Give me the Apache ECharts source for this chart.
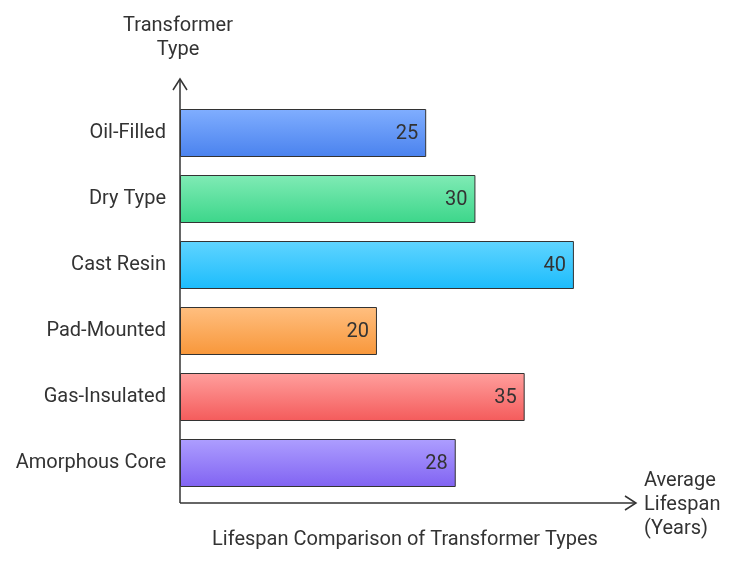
<!DOCTYPE html>
<html><head><meta charset="utf-8">
<script src="https://cdn.jsdelivr.net/npm/echarts@6/dist/echarts.min.js"></script>
<style>html,body{margin:0;padding:0;background:#fff}#c{width:750px;height:564px}</style>
</head><body><div id="c"></div>
<script>
const categories = ['Oil-Filled','Dry Type','Cast Resin','Pad-Mounted','Gas-Insulated','Amorphous Core'];
const values = [25,30,40,20,35,28];
const topColors = ['#80aeff','#80ebb5','#60d4ff','#ffbf80','#ff9f9d','#ad9eff'];
const bottomColors = ['#4a82ee','#3cd68a','#1cbcfc','#f8973a','#f45b5b','#8163f2'];
const chart = echarts.init(document.getElementById('c'));
const F = 'Roboto, sans-serif';
chart.setOption({
  animation:false,
  grid:{left:180,top:100,width:453,height:396},
  xAxis:{type:'value',min:0,max:46,show:false},
  yAxis:{type:'category',data:categories,inverse:true,
    axisLine:{show:false},axisTick:{show:false},
    axisLabel:{fontFamily:F,fontSize:20,color:'#333',margin:14}},
  series:[{type:'bar',barWidth:48,
    data:values.map((v,i)=>({value:v,itemStyle:{
      color:new echarts.graphic.LinearGradient(0,0,0,1,[{offset:0,color:topColors[i]},{offset:1,color:bottomColors[i]}]),
      borderColor:'#333',borderWidth:1}})),
    label:{show:true,position:'insideRight',distance:8,fontFamily:F,fontSize:20,color:'#333',offset:[0,1]}}],
  graphic:[
    {type:'line',shape:{x1:180,y1:503,x2:180,y2:80},style:{stroke:'#333',lineWidth:1.5}},
    {type:'polyline',shape:{points:[[173,90],[180,79],[187,90]]},style:{stroke:'#333',lineWidth:1.5,fill:null}},
    {type:'line',shape:{x1:180,y1:503,x2:635,y2:503},style:{stroke:'#333',lineWidth:1.5}},
    {type:'polyline',shape:{points:[[625,496],[636,503],[625,510]]},style:{stroke:'#333',lineWidth:1.5,fill:null}},
    {type:'text',x:178,y:14,style:{text:'Transformer\nType',font:'20px '+F,fill:'#333',lineHeight:24,align:'center'}},
    {type:'text',x:644,y:469,style:{text:'Average\nLifespan\n(Years)',font:'20px '+F,fill:'#333',lineHeight:24}},
    {type:'text',x:405,y:530,style:{text:'Lifespan Comparison of Transformer Types',font:'20px '+F,fill:'#333',align:'center'}}
  ]
});
</script></body></html>
